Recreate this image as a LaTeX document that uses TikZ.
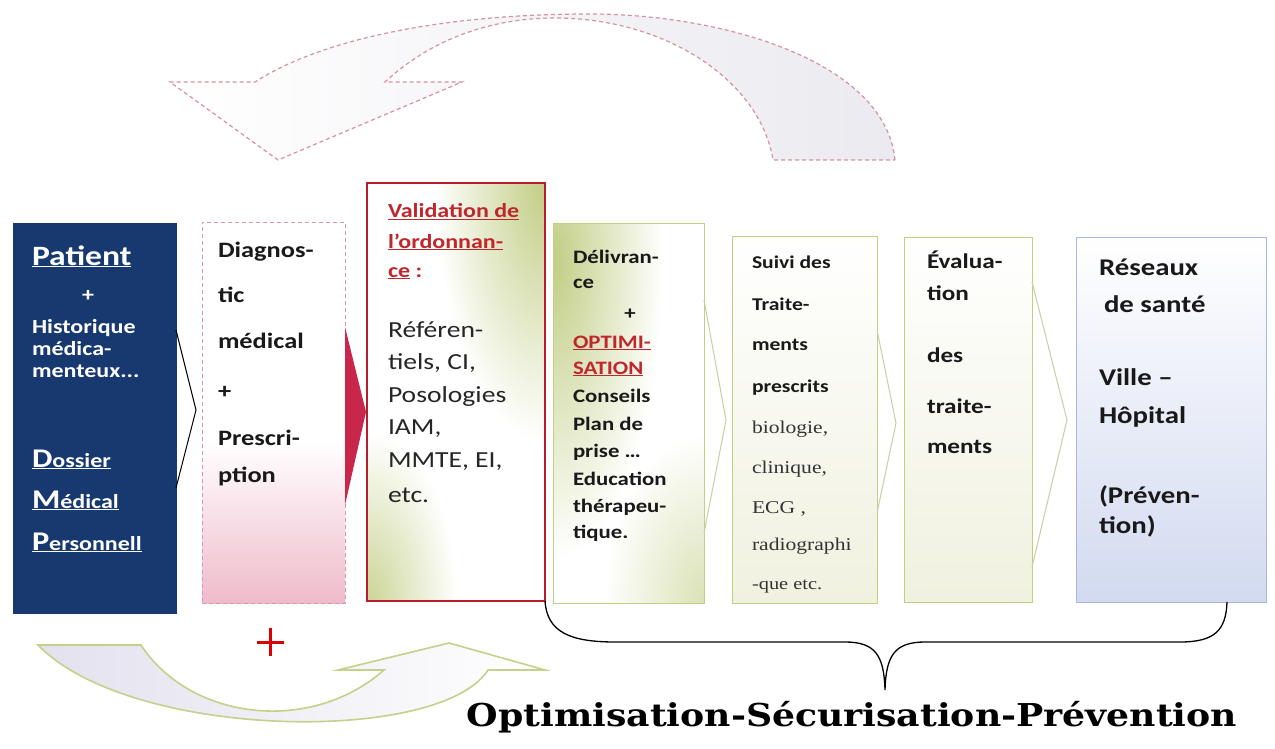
\documentclass[tikz,border=0pt]{standalone}
\usepackage{fontspec}
\setmainfont{Carlito}
\newfontfamily\calb[FakeStretch=1.2]{Carlito}
\newfontfamily\tmsf[FakeStretch=1.2]{Liberation Serif}
\newfontfamily\ttlf[FakeStretch=1.15]{DejaVu Serif}
\usetikzlibrary{calc}
\newcommand\fsz[1]{\fontsize{#1}{#1}\selectfont}
\definecolor{cNavy}{HTML}{17396F}
\definecolor{cBlueL}{HTML}{3A6BB0}
\definecolor{cPinkB}{HTML}{DC97A9}
\definecolor{cPinkF}{HTML}{EFBBCB}
\definecolor{cRed}{HTML}{B71C2E}
\definecolor{cTxtRed}{HTML}{C0272D}
\definecolor{cCrimson}{HTML}{C8264A}
\definecolor{cGreenB}{HTML}{C3CF80}
\definecolor{cGreenF}{HTML}{C2CD84}
\definecolor{cBeige}{HTML}{F0F1DF}
\definecolor{cBlueB}{HTML}{A8B7DF}
\definecolor{cBlueF}{HTML}{D2DAF0}
\definecolor{cArrowB}{HTML}{D6929D}
\definecolor{cArrowF}{HTML}{EAEAF0}
\definecolor{cGreenA}{HTML}{C5D08A}
\definecolor{cLav}{HTML}{E3E1EE}
\definecolor{cChev}{HTML}{C9CFA2}
\tikzset{
  box/.style={rectangle, inner sep=0pt, outer sep=0pt},
  lab/.style={anchor=base west, inner sep=0pt, outer sep=0pt},
  labc/.style={anchor=base, inner sep=0pt, outer sep=0pt},
  bw/.style={font=\calb\bfseries\fsz{20}, text=white},
  b2t/.style={font=\calb\bfseries\fsz{22}, text=black!90},
  b3r/.style={font=\calb\bfseries\fsz{20}, text=cTxtRed},
  b3t/.style={font=\calb\fsz{23}, text=black!85},
  b4t/.style={font=\calb\bfseries\fsz{19}, text=black!90},
  b5t/.style={font=\calb\bfseries\fsz{18}, text=black!90},
  b5s/.style={font=\tmsf\fsz{18}, text=black!80},
  b6t/.style={font=\calb\bfseries\fsz{21}, text=black!90},
  b7t/.style={font=\calb\bfseries\fsz{24}, text=black!90},
  chev/.style={draw=cChev, line width=1pt},
}
\begin{document}
\begin{tikzpicture}[x=1pt,y=-1pt]
\useasboundingbox (0,0) rectangle (1275,749);
\fill[white] (0,0) rectangle (1275,749);

% ---- top curved arrow ----
\path[draw=cArrowB, dash pattern=on 4pt off 3pt, line width=1.2pt,
      left color=white, middle color=white, right color=cArrowF]
  (895,160) .. controls (885,60) and (720,14) .. (590,14)
  .. controls (440,14) and (320,40) .. (255,82)
  -- (170,82) -- (278,160) -- (462,82) -- (385,82)
  .. controls (430,40) and (490,18) .. (555,18)
  .. controls (665,18) and (760,80) .. (773,160) -- cycle;

% ---- box fills (gradients) ----
\shade[top color=white, bottom color=cPinkF] (202,440) rectangle (345,603);
\begin{scope}
  \clip (367,183) rectangle (545,601);
  \shade[inner color=cGreenF, outer color=white] (545,183) ellipse (110pt and 260pt);
  \shade[inner color=cGreenF!85, outer color=white] (367,601) ellipse (90pt and 170pt);
\end{scope}
\begin{scope}
  \clip (553,223) rectangle (704,603);
  \shade[inner color=cGreenF, outer color=white] (553,260) ellipse (110pt and 300pt);
  \shade[inner color=cGreenF!60, outer color=white] (704,603) ellipse (100pt and 170pt);
\end{scope}

% ---- boxes ----
\node[box, minimum width=163pt, minimum height=390pt,
      left color=cNavy, middle color=cBlueL, right color=cNavy,
      draw=cNavy] (b1) at (94.5,418) {};
\node[box, minimum width=143pt, minimum height=381pt,
      draw=cPinkB, dash pattern=on 4pt off 3pt, line width=1pt] (b2) at (273.5,412.5) {};
\node[box, minimum width=178pt, minimum height=418pt,
      draw=cRed, line width=1.6pt] (b3) at (456,392) {};
\node[box, minimum width=151pt, minimum height=380pt,
      draw=cGreenB, line width=1pt] (b4) at (628.5,413) {};
\node[box, minimum width=145pt, minimum height=367pt,
      top color=white, middle color=white, bottom color=cBeige,
      draw=cGreenB, line width=1pt] (b5) at (804.5,419.5) {};
\node[box, minimum width=128pt, minimum height=365pt,
      top color=white, middle color=white, bottom color=cBeige,
      draw=cGreenB, line width=1pt] (b6) at (968,419.5) {};
\node[box, minimum width=190pt, minimum height=365pt,
      top color=white, middle color=white, bottom color=cBlueF,
      draw=cBlueB, line width=1pt] (b7) at (1171,419.5) {};

% ---- chevrons between boxes ----
\draw[black, line width=1pt]
  ($(b1.east)+(0,-88)$) -- ($(b1.east)+(20,-8)$) -- ($(b1.east)+(0,70)$);
\fill[cCrimson]
  ($(b2.east)+(0,-85.5)$) -- ($(b2.east)+(21,-0.5)$) -- ($(b2.east)+(0,92.5)$) -- cycle;
\draw[chev]
  ($(b4.east)+(0,-113)$) -- ($(b4.east)+(22,7)$) -- ($(b4.east)+(0,120)$);
\draw[chev]
  ($(b5.east)+(0,-89.5)$) -- ($(b5.east)+(19,3.5)$) -- ($(b5.east)+(0,93.5)$);
\draw[chev]
  ($(b6.east)+(0,-137.5)$) -- ($(b6.east)+(35,0.5)$) -- ($(b6.east)+(0,147.5)$);

% ---- box 1 text ----
\node[lab, bw, font=\calb\bfseries\fsz{28}] (p1) at (32,265) {\underline{Patient}};
\node[labc, bw] (p2) at (88,301) {+};
\node[lab, bw] (p3) at (32,333) {Historique};
\node[lab, bw] (p4) at (32,355) {médica-};
\node[lab, bw] (p5) at (32,377) {menteux...};
\node[lab, bw] (p6) at (32,467) {\underline{{\fsz{27}D}ossier}};
\node[lab, bw] (p7) at (32,508) {\underline{{\fsz{27}M}édical}};
\node[lab, bw] (p8) at (32,550) {\underline{{\fsz{27}P}ersonnell}};

% ---- box 2 text ----
\node[lab, b2t] (d1) at (218,257) {Diagnos-};
\node[lab, b2t] (d2) at (218,302) {tic};
\node[lab, b2t] (d3) at (218,348) {médical};
\node[lab, b2t] (d4) at (218,398) {+};
\node[lab, b2t] (d5) at (218,445) {Prescri-};
\node[lab, b2t] (d6) at (218,482) {ption};

% ---- box 3 text ----
\node[lab, b3r] (v1) at (388,218) {\underline{Validation de}};
\node[lab, b3r] (v2) at (388,248) {\underline{l’ordonnan-}};
\node[lab, b3r] (v3) at (388,277) {\underline{ce} :};
\node[lab, b3t] (v4) at (388,337) {Référen-};
\node[lab, b3t] (v5) at (388,369) {tiels, CI,};
\node[lab, b3t] (v6) at (388,402) {Posologies};
\node[lab, b3t] (v7) at (388,434) {IAM,};
\node[lab, b3t] (v8) at (388,467) {MMTE, EI,};
\node[lab, b3t] (v9) at (388,502) {etc.};

% ---- box 4 text ----
\node[lab, b4t] (o1) at (573,263) {Délivran-};
\node[lab, b4t] (o2) at (573,288) {ce};
\node[labc, b4t] (o3) at (630,319) {+};
\node[lab, b4t, text=cTxtRed] (o4) at (573,348) {\underline{OPTIMI-}};
\node[lab, b4t, text=cTxtRed] (o5) at (573,374) {\underline{SATION}};
\node[lab, b4t] (o6) at (573,402) {Conseils};
\node[lab, b4t] (o7) at (573,430) {Plan de};
\node[lab, b4t] (o8) at (573,457) {prise …};
\node[lab, b4t] (o9) at (573,485) {Education};
\node[lab, b4t] (o10) at (573,512) {thérapeu-};
\node[lab, b4t] (o11) at (573,538) {tique.};

% ---- box 5 text ----
\node[lab, b5t] (s1) at (752,268) {Suivi des};
\node[lab, b5t] (s2) at (752,310) {Traite-};
\node[lab, b5t] (s3) at (752,350) {ments};
\node[lab, b5t] (s4) at (752,392) {prescrits};
\node[lab, b5s] (s5) at (752,433) {biologie,};
\node[lab, b5s] (s6) at (752,473) {clinique,};
\node[lab, b5s] (s7) at (752,513) {ECG ,};
\node[lab, b5s] (s8) at (752,550) {radiographi};
\node[lab, b5s, font=\tmsf\fsz{17}] (s9) at (752,589) {-que etc.};

% ---- box 6 text ----
\node[lab, b6t] (e1) at (927,268) {Évalua-};
\node[lab, b6t] (e2) at (927,300) {tion};
\node[lab, b6t] (e3) at (927,362) {des};
\node[lab, b6t] (e4) at (927,413) {traite-};
\node[lab, b6t] (e5) at (927,453) {ments};

% ---- box 7 text ----
\node[lab, b7t] (r1) at (1099,275) {Réseaux};
\node[lab, b7t] (r2) at (1104,312) {de santé};
\node[lab, b7t] (r3) at (1099,385) {Ville –};
\node[lab, b7t] (r4) at (1099,423) {Hôpital};
\node[lab, b7t] (r5) at (1099,503) {(Préven-};
\node[lab, b7t] (r6) at (1099,533) {tion)};

% ---- red plus ----
\draw[red!85!black, line width=3pt] (257,642) -- (284,642);
\draw[red!85!black, line width=3pt] (270.5,628) -- (270.5,656);

% ---- bottom curved arrow ----
\path[draw=cGreenA, line width=1.6pt, left color=cLav, right color=white]
  (38,645) -- (141,645)
  .. controls (190,720) and (310,735) .. (384,670)
  -- (338,670) -- (449,643) -- (545,670) -- (488,670)
  .. controls (440,745) and (130,740) .. (38,645) -- cycle;

% ---- brace ----
\coordinate (bl) at (b3.south east);
\coordinate (br) at ($(b7.south west)+(151,0)$);
\coordinate (tip) at (885,690);
\draw[black, line width=1.3pt]
  (bl) .. controls (547,632) and (570,642) .. (615,642)
  -- (845,642) .. controls (875,642) and (884,655) .. (tip)
  .. controls (886,655) and (895,642) .. (925,642)
  -- (1180,642) .. controls (1215,642) and (1226,630) .. (br);

% ---- title ----
\node[labc, font=\ttlf\bfseries\fsz{31.5}, text=black] (title) at (852,726)
  {Optimisation-Sécurisation-Prévention};
\end{tikzpicture}
\end{document}
